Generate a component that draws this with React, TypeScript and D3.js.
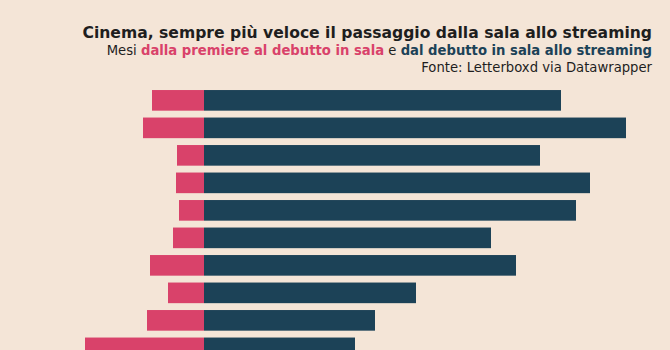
import React from 'react';
import * as d3 from 'd3';

const width = 670;
const height = 350;

// film / release rows (labels not shown in the chart)
const films = ['1', '2', '3', '4', '5', '6', '7', '8', '9', '10'];
// months from premiere to theatrical debut
const premiereToTheatre = [2.6, 3.05, 1.35, 1.4, 1.25, 1.55, 2.7, 1.8, 2.85, 5.95];
// months from theatrical debut to streaming
const theatreToStreaming = [17.85, 21.1, 16.8, 19.3, 18.6, 14.35, 15.6, 10.6, 8.55, 7.55];

const title = 'Cinema, sempre più veloce il passaggio dalla sala allo streaming';
const source = 'Fonte: Letterboxd via Datawrapper';

const pink = '#d9426a';
const navy = '#1c4257';
const bg = '#f4e5d7';
const font = 'DejaVu Sans, sans-serif';

const App = () => {
  const x = d3.scaleLinear().domain([0, 1]).range([204, 224]);

  const y = d3.scaleBand()
    .domain(films)
    .range([86.6, 361.6])
    .paddingInner(0.25)
    .paddingOuter(0.125);

  return (
    <div style={{ position: 'fixed', left: 0, top: 0 }}>
      <svg width={width} height={height} style={{ display: 'block', background: bg }}>
        <rect width={width} height={height} fill={bg} />

        <text x={652} y={37.5} textAnchor="end" fontFamily={font} fontSize={15.6} fontWeight="bold" fill="#1e1e1e">
          {title}
        </text>
        <text x={652} y={55} textAnchor="end" fontFamily={font} fontSize={13.2} fill="#1e1e1e">
          Mesi{' '}
          <tspan fill={pink} fontWeight="bold">dalla premiere al debutto in sala</tspan>
          {' e '}
          <tspan fill={navy} fontWeight="bold">dal debutto in sala allo streaming</tspan>
        </text>
        <text x={652} y={72} textAnchor="end" fontFamily={font} fontSize={13.2} fill="#1e1e1e">
          {source}
        </text>

        {films.map((f, i) => (
          <g key={f}>
            <rect
              x={x(-premiereToTheatre[i])}
              y={y(f)}
              width={x(0) - x(-premiereToTheatre[i])}
              height={y.bandwidth()}
              fill={pink}
            />
            <rect
              x={x(0)}
              y={y(f)}
              width={x(theatreToStreaming[i]) - x(0)}
              height={y.bandwidth()}
              fill={navy}
            />
          </g>
        ))}
      </svg>
    </div>
  );
};

export default App;
